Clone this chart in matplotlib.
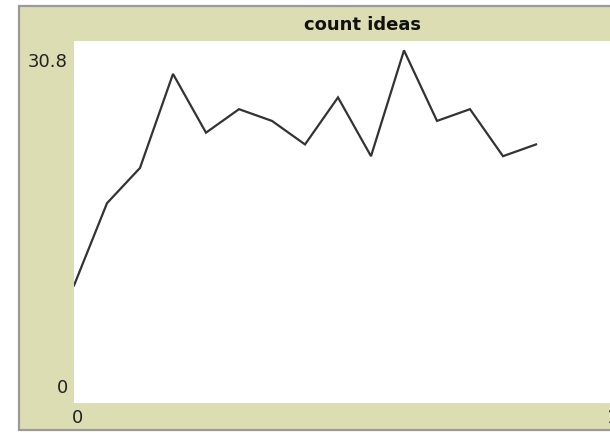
import matplotlib.pyplot as plt
from matplotlib.patches import Rectangle
from matplotlib.transforms import offset_copy

# data (NetLogo style plot)
ticks = list(range(15))
ideas = [10, 17, 20, 28, 23, 25, 24, 22, 26, 21, 30, 24, 25, 21, 22]
title = 'count ideas'
y_range = (0, 30.8)
x_range = (0, 17)

W, H = 610, 433
beige = '#DCDDB3'
edge = '#9A9A9A'

fig = plt.figure(figsize=(W / 100, H / 100), dpi=100)
fig.patch.set_facecolor('white')

# widget panel, kept behind the plot area
panel = Rectangle((19 / W, 1 - 430 / H), 1.0, (430 - 6) / H,
                  transform=fig.transFigure, facecolor=beige,
                  edgecolor=edge, linewidth=1.6, zorder=-10)
fig.patches.append(panel)

# plot area: 33 px per x unit, 0..30.8 over 362 px
px_per_x = 33
ax = fig.add_axes([74 / W, (H - 403) / H, px_per_x * (x_range[1] - x_range[0]) / W, 362 / H])
ax.set_zorder(5)
ax.set_facecolor('white')
ax.plot(ticks, ideas, color='#333333', linewidth=1.6, solid_joinstyle='miter')
ax.set_xlim(*x_range)
ax.set_ylim(*y_range)
ax.set_xticks([])
ax.set_yticks([])
for s in ax.spines.values():
    s.set_visible(False)

fs = 13
# y labels
ax.text(0, 1, '{:g}'.format(y_range[1]), transform=offset_copy(ax.transAxes, fig, x=-6, y=-21, units='dots'),
        ha='right', va='center', fontsize=fs, color='#222222')
ax.text(0, 0, '{:g}'.format(y_range[0]), transform=offset_copy(ax.transAxes, fig, x=-6, y=15, units='dots'),
        ha='right', va='center', fontsize=fs, color='#222222')
# x labels (the max label runs off the right edge, as in the reference)
ax.text(0, 0, '{:g}'.format(x_range[0]), transform=offset_copy(ax.transAxes, fig, x=-2, y=-15, units='dots'),
        ha='left', va='center', fontsize=fs, color='#222222', clip_on=False)
ax.text(0, 0, '{:g}'.format(x_range[1]), transform=offset_copy(ax.transAxes, fig, x=607 - 74, y=-15, units='dots'),
        ha='left', va='center', fontsize=fs, color='#222222', clip_on=False)

fig.text(363 / W, 1 - 25 / H, title, ha='center', va='center', fontsize=fs, fontweight='bold', color='#111111')

fig.savefig('out.png', dpi=100)
